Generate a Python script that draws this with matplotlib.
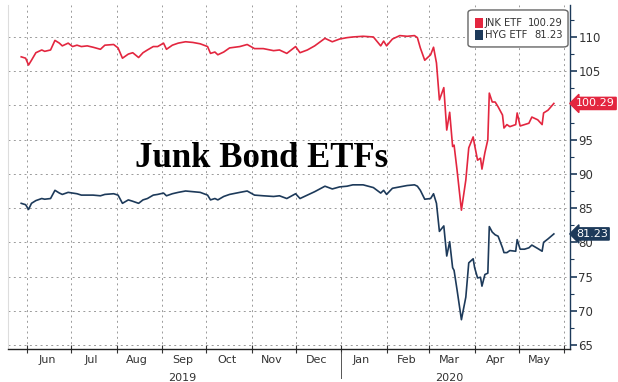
import matplotlib
matplotlib.use("Agg")
from matplotlib import pyplot as plt
import matplotlib.dates as mdates
import matplotlib.ticker as mticker
import matplotlib.transforms as mtransforms
from matplotlib.patches import FancyBboxPatch, Rectangle
import pandas as pd

# даты (общие для обеих серий)
dates = [
    "2019-05-28", "2019-05-31", "2019-06-02", "2019-06-04", "2019-06-07",
    "2019-06-11", "2019-06-13", "2019-06-17", "2019-06-20", "2019-06-23",
    "2019-06-25", "2019-06-29", "2019-07-02", "2019-07-05", "2019-07-08",
    "2019-07-12", "2019-07-16", "2019-07-21", "2019-07-24", "2019-07-30",
    "2019-08-02", "2019-08-05", "2019-08-09", "2019-08-12", "2019-08-16",
    "2019-08-19", "2019-08-22", "2019-08-26", "2019-08-29", "2019-09-02",
    "2019-09-04", "2019-09-08", "2019-09-12", "2019-09-17", "2019-09-22",
    "2019-09-27", "2019-10-02", "2019-10-04", "2019-10-07", "2019-10-09",
    "2019-10-13", "2019-10-17", "2019-10-24", "2019-10-29", "2019-11-03",
    "2019-11-09", "2019-11-16", "2019-11-20", "2019-11-25", "2019-12-01",
    "2019-12-04", "2019-12-09", "2019-12-14", "2019-12-21", "2019-12-26",
    "2019-12-31", "2020-01-05", "2020-01-09", "2020-01-16", "2020-01-23",
    "2020-01-28", "2020-01-30", "2020-02-01", "2020-02-05", "2020-02-10",
    "2020-02-15", "2020-02-20", "2020-02-22", "2020-02-24", "2020-02-27",
    "2020-03-02", "2020-03-04", "2020-03-06", "2020-03-08", "2020-03-11",
    "2020-03-13", "2020-03-15", "2020-03-17", "2020-03-18", "2020-03-20",
    "2020-03-23", "2020-03-26", "2020-03-28", "2020-03-31", "2020-04-01",
    "2020-04-03", "2020-04-05", "2020-04-06", "2020-04-08", "2020-04-10",
    "2020-04-11", "2020-04-13", "2020-04-15", "2020-04-17", "2020-04-20",
    "2020-04-21", "2020-04-23", "2020-04-25", "2020-04-29", "2020-04-30",
    "2020-05-02", "2020-05-05", "2020-05-08", "2020-05-10", "2020-05-14",
    "2020-05-17", "2020-05-18", "2020-05-21", "2020-05-25",
]

jnk = [
    107.1, 106.9, 105.9, 106.6, 107.7, 108.1, 107.9, 108.1, 109.5, 109.1,
    108.7, 109.1, 108.6, 108.8, 108.6, 108.7, 108.5, 108.2, 108.8, 108.9,
    108.4, 106.9, 107.5, 107.7, 107.0, 107.7, 108.1, 108.6, 108.6, 109.1,
    108.2, 108.8, 109.1, 109.3, 109.2, 109.0, 108.6, 107.6, 107.8, 107.4,
    107.8, 108.4, 108.6, 108.9, 108.3, 108.3, 108.0, 108.1, 107.6, 108.6,
    107.7, 108.1, 108.7, 109.8, 109.3, 109.7, 109.9, 110.0, 110.1, 110.0,
    108.7, 109.4, 108.7, 109.7, 110.2, 110.1, 110.2, 109.9, 108.4, 106.6,
    107.4, 108.5, 106.2, 100.8, 102.6, 96.4, 99.0, 94.0, 94.2, 90.6,
    84.7, 89.1, 93.8, 95.4, 94.2, 92.0, 92.3, 90.7, 93.1, 95.0,
    101.8, 100.5, 100.5, 99.8, 98.6, 96.7, 97.2, 96.9, 97.2, 98.9,
    97.0, 97.2, 97.4, 98.3, 97.9, 97.2, 98.9, 99.3, 100.29,
]

hyg = [
    85.7, 85.5, 84.8, 85.7, 86.1, 86.4, 86.3, 86.4, 87.6, 87.2,
    87.0, 87.3, 87.2, 87.1, 86.9, 86.9, 86.9, 86.8, 87.0, 87.1,
    86.9, 85.7, 86.2, 86.0, 85.7, 86.2, 86.4, 86.9, 87.0, 87.2,
    86.8, 87.1, 87.3, 87.5, 87.4, 87.3, 86.9, 86.2, 86.4, 86.2,
    86.7, 87.0, 87.3, 87.5, 86.9, 86.8, 86.7, 86.8, 86.4, 87.1,
    86.4, 86.9, 87.4, 88.2, 87.8, 88.1, 88.2, 88.4, 88.4, 88.0,
    87.2, 87.6, 87.0, 87.9, 88.1, 88.3, 88.4, 88.2, 87.6, 86.3,
    86.4, 87.1, 85.7, 81.6, 82.4, 78.0, 80.1, 76.3, 75.9, 73.1,
    68.7, 72.0, 77.0, 77.6, 76.3, 74.8, 74.9, 73.6, 75.3, 75.5,
    82.3, 81.5, 81.1, 80.9, 79.2, 78.5, 78.5, 78.8, 78.7, 80.4,
    79.0, 79.0, 79.2, 79.6, 79.1, 78.7, 80.0, 80.5, 81.23,
]

names = ["JNK ETF", "HYG ETF"]
last_labels = ["100.29", "81.23"]
y_ticks = [65, 70, 75, 80, 85, 90, 95, 100, 105, 110]
title = "Junk Bond ETFs"

red = "#e3263f"
navy = "#1d3a5a"
grey_txt = "#333333"
narrow = ["Liberation Sans Narrow", "DejaVu Sans"]

x = pd.to_datetime(dates)

fig = plt.figure(figsize=(6.18, 3.82), dpi=100)
ax = fig.add_axes([8 / 618, 33 / 382, 562 / 618, 344 / 382])

ax.plot(x, jnk, color=red, lw=1.2)
ax.plot(x, hyg, color=navy, lw=1.2)

ax.set_xlim(pd.Timestamp("2019-05-19"), pd.Timestamp("2020-06-05"))
ax.set_ylim(64.42, 114.67)

# ось Y справа
ax.yaxis.tick_right()
ax.set_yticks(y_ticks)
ax.yaxis.set_minor_locator(mticker.MultipleLocator(2.5))
ax.tick_params(axis="y", which="major", length=5, width=1.2, color=navy,
               labelsize=8.5, labelcolor=grey_txt, pad=1)
ax.tick_params(axis="y", which="minor", length=3, width=0.8, color=navy)
for lab in ax.get_yticklabels():
    lab.set_family(narrow)

# ось X: месяцы
ax.xaxis.set_major_locator(mdates.MonthLocator())
ax.xaxis.set_major_formatter(mticker.NullFormatter())
ax.xaxis.set_minor_locator(mdates.MonthLocator(bymonthday=15))
ax.xaxis.set_minor_formatter(mdates.DateFormatter("%b"))
ax.tick_params(axis="x", which="major", direction="inout", length=6,
               width=0.8, color="#333333")
ax.tick_params(axis="x", which="minor", length=0, labelsize=8,
               labelcolor=grey_txt, pad=4)
for lab in ax.xaxis.get_minorticklabels():
    lab.set_family(narrow)

ax.grid(True, which="major", color="#9a9a9a", ls=(0, (2, 3.5)), lw=0.7)

ax.spines["top"].set_visible(False)
ax.spines["left"].set_color("#dddddd")
ax.spines["right"].set_color(navy)
ax.spines["right"].set_linewidth(1.0)
ax.spines["bottom"].set_color("#222222")
ax.spines["bottom"].set_linewidth(1.0)

# годы и разделитель
trans = mtransforms.blended_transform_factory(ax.transData, ax.transAxes)
ax.text(pd.Timestamp("2019-09-15"), -0.083, "2019", transform=trans,
        ha="center", va="center", fontsize=8, color=grey_txt, family=narrow)
ax.text(pd.Timestamp("2020-03-15"), -0.083, "2020", transform=trans,
        ha="center", va="center", fontsize=8, color=grey_txt, family=narrow)
ax.plot([pd.Timestamp("2020-01-01")] * 2, [-0.01, -0.085], transform=trans,
        color="#555555", lw=0.7, clip_on=False)

# заголовок
ax.text(0.452, 0.555, title, transform=ax.transAxes, ha="center",
        va="center", fontsize=25, fontweight="bold", family="Liberation Serif",
        color="black")

# легенда (рисуем вручную, чтобы значения были выровнены вправо)
box = FancyBboxPatch((0.8185, 0.878), 0.178, 0.1075, transform=ax.transAxes,
                     boxstyle="round,pad=0,rounding_size=0.008",
                     fc="white", ec="#666666", lw=1.0, zorder=5)
ax.add_patch(box)
for i, (nm, val, col) in enumerate(zip(names, last_labels, [red, navy])):
    yy = 0.948 - i * 0.036
    ax.add_patch(Rectangle((0.8305, yy - 0.014), 0.0145, 0.028,
                           transform=ax.transAxes, fc=col, ec="none",
                           zorder=6))
    ax.text(0.848, yy, nm, transform=ax.transAxes, ha="left", va="center",
            fontsize=7.2, color=grey_txt, family=narrow, zorder=6)
    ax.text(0.987, yy, val, transform=ax.transAxes, ha="right", va="center",
            fontsize=7.2, color=grey_txt, family=narrow, zorder=6)

# метки последних значений
trans2 = mtransforms.blended_transform_factory(ax.transAxes, ax.transData)
for val, lab, col in [(jnk[-1], last_labels[0], red),
                      (hyg[-1], last_labels[1], navy)]:
    ax.text(1.011, val, lab, transform=trans2, ha="left", va="center",
            fontsize=8, color="white", family=narrow, clip_on=False,
            bbox=dict(boxstyle="larrow,pad=0.1", fc=col, ec=col))

fig.savefig("out.png", dpi=100)
